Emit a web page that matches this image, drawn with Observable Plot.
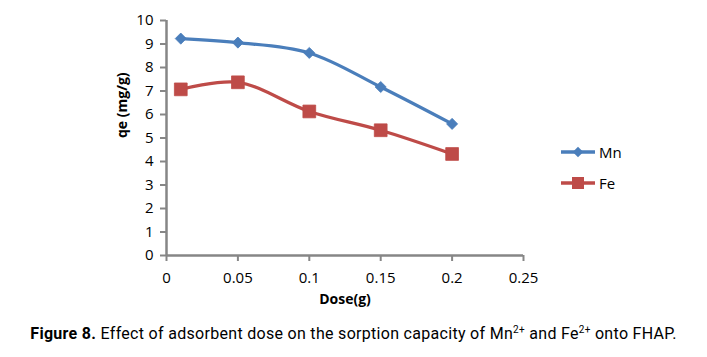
<!DOCTYPE html>
<html>
<head>
<meta charset="utf-8">
<script src="https://cdn.jsdelivr.net/npm/d3@7"></script>
<script src="https://cdn.jsdelivr.net/npm/@observablehq/plot@0.6"></script>
<style>
  html, body { margin: 0; padding: 0; background: #fff; }
  #wrap { position: relative; width: 707px; height: 357px; }
  #legend { position: absolute; left: 561px; top: 142px; font-family: "Open Sans", Calibri, sans-serif; font-size: 15px; color: #000; }
  .li { display: flex; align-items: center; height: 20px; margin-bottom: 11px; }
  .li svg { margin-right: 2px; }
  #caption { position: absolute; left: 0; top: 324px; width: 707px; text-align: center; font-family: "Roboto", sans-serif; font-size: 16px; letter-spacing: 0.3px; color: #000; white-space: nowrap; }
  #caption sup { font-size: 10px; vertical-align: 6px; line-height: 0; }
</style>
</head>
<body>
<div id="wrap">
  <div id="chart"></div>
  <div id="legend"></div>
  <div id="caption"><b>Figure 8.</b> Effect of adsorbent dose on the sorption capacity of Mn<sup>2+</sup> and Fe<sup>2+</sup> onto FHAP.</div>
</div>
<script>
const doses = [0.01, 0.05, 0.1, 0.15, 0.2];
const mnValues = [9.23, 9.06, 8.62, 7.17, 5.6];
const feValues = [7.07, 7.37, 6.13, 5.33, 4.32];
const xTicks = [0, 0.05, 0.1, 0.15, 0.2, 0.25];
const yTicks = [0, 1, 2, 3, 4, 5, 6, 7, 8, 9, 10];
const seriesNames = ["Mn", "Fe"];
const colors = ["#4A7EBB", "#BE4B48"];

const mn = doses.map((d, i) => ({dose: d, qe: mnValues[i]}));
const fe = doses.map((d, i) => ({dose: d, qe: feValues[i]}));

const axisColor = "#868686";
const font = '"Open Sans", Calibri, sans-serif';

const chart = Plot.plot({
  width: 707,
  height: 318,
  marginTop: 20,
  marginBottom: 63,
  marginLeft: 166,
  marginRight: 184,
  style: {fontFamily: font, fontSize: "15px", color: "#000", background: "#fff"},
  x: {domain: [0, 0.25], ticks: xTicks, tickFormat: d => String(+d.toFixed(2))},
  y: {domain: [0, 10], ticks: yTicks},
  marks: [
    Plot.ruleY([0], {stroke: axisColor, strokeWidth: 2.5}),
    Plot.ruleX([0], {stroke: axisColor, strokeWidth: 2.5}),
    Plot.axisX({ticks: xTicks, tickFormat: d => String(+d.toFixed(2)), tickSize: 6, tickPadding: 11, stroke: axisColor, strokeWidth: 2, label: null, fill: "#000", fontSize: 15}),
    Plot.axisY({ticks: yTicks, tickSize: 6, tickPadding: 7, stroke: axisColor, strokeWidth: 2, label: null, fill: "#000", fontSize: 15}),
    Plot.text(["Dose(g)"], {frameAnchor: "bottom", dy: 48, fontWeight: "bold", fontSize: 14, fill: "#000"}),
    Plot.text(["qe (mg/g)"], {frameAnchor: "left", dx: -44, rotate: -90, fontWeight: "bold", fontSize: 14, fill: "#000"}),
    Plot.line(mn, {x: "dose", y: "qe", stroke: colors[0], strokeWidth: 3.2, curve: "catmull-rom"}),
    Plot.line(fe, {x: "dose", y: "qe", stroke: colors[1], strokeWidth: 3.2, curve: "catmull-rom"}),
    Plot.dot(mn, {x: "dose", y: "qe", symbol: "diamond2", r: 5, fill: colors[0], stroke: colors[0], strokeWidth: 0.8}),
    Plot.dot(fe, {x: "dose", y: "qe", symbol: "square", r: 7.2, fill: colors[1], stroke: colors[1], strokeWidth: 0.8})
  ]
});
document.getElementById("chart").appendChild(chart);

// legend
const legend = d3.select("#legend");
seriesNames.forEach((name, i) => {
  const row = legend.append("div").attr("class", "li");
  const s = row.append("svg").attr("width", 36).attr("height", 20);
  s.append("line").attr("x1", 0).attr("x2", 34).attr("y1", 10).attr("y2", 10)
    .attr("stroke", colors[i]).attr("stroke-width", 3.5);
  if (i === 0) {
    s.append("path").attr("d", d3.symbol(d3.symbolDiamond2, 70)()).attr("transform", "translate(17,10)").attr("fill", colors[i]);
  } else {
    s.append("rect").attr("x", 11).attr("y", 4).attr("width", 12).attr("height", 12).attr("fill", colors[i]);
  }
  row.append("span").text(name);
});
</script>
</body>
</html>
